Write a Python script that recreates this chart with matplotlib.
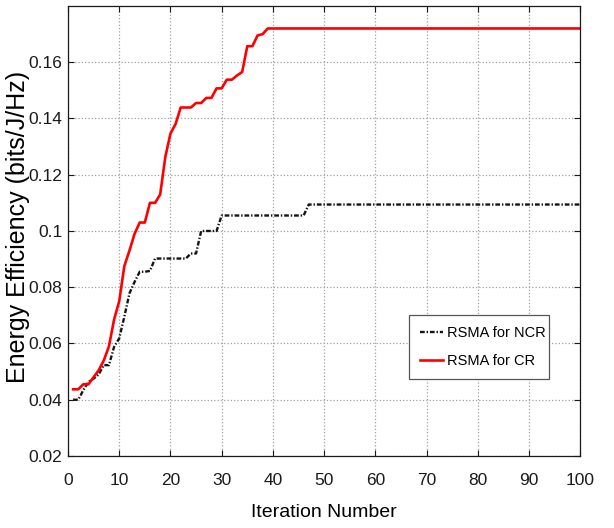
import matplotlib
matplotlib.use('Agg')
import matplotlib.pyplot as plt

# Energy efficiency vs iteration (breakpoints only)
ncr_iter = [1, 2, 3, 4, 5, 6, 7, 8, 9, 10, 11, 12, 13, 14, 15, 16, 17, 23, 24, 25, 26, 29, 30, 46, 47, 100]
ncr_ee = [0.0400, 0.0400, 0.0434, 0.0464, 0.0475, 0.0490, 0.0523, 0.0523, 0.0588, 0.0618,
          0.0695, 0.0778, 0.0819, 0.0855, 0.0855, 0.0858, 0.0902, 0.0902, 0.0920, 0.0920,
          0.1000, 0.1000, 0.1055, 0.1055, 0.1094, 0.1094]

cr_iter = [1, 2, 3, 4, 5, 6, 7, 8, 9, 10, 11, 12, 13, 14, 15, 16, 17, 18, 19, 20,
           21, 22, 24, 25, 26, 27, 28, 29, 30, 31, 32, 33, 34, 35, 36, 37, 38, 39, 100]
cr_ee = [0.0437, 0.0437, 0.0455, 0.0455, 0.0480, 0.0505, 0.0540, 0.0590, 0.0685, 0.0750,
         0.0875, 0.0930, 0.0990, 0.1030, 0.1030, 0.1100, 0.1100, 0.1130, 0.1263, 0.1346,
         0.1380, 0.1439, 0.1439, 0.1455, 0.1455, 0.1473, 0.1473, 0.1507, 0.1507, 0.1538,
         0.1538, 0.1553, 0.1565, 0.1657, 0.1657, 0.1695, 0.1700, 0.1720, 0.1720]

x_ticks = list(range(0, 101, 10))
y_ticks = [0.02, 0.04, 0.06, 0.08, 0.1, 0.12, 0.14, 0.16]
y_tick_labels = ['0.02', '0.04', '0.06', '0.08', '0.1', '0.12', '0.14', '0.16']

font = ['Liberation Sans', 'DejaVu Sans']

fig = plt.figure(figsize=(6.14, 5.28), dpi=100)
ax = fig.add_axes([0.1107, 0.1364, 0.8344, 0.8523])

ax.plot(ncr_iter, ncr_ee, color='#141414', lw=1.7, dashes=(2.0, 0.8, 0.6, 0.8),
        label='RSMA for NCR')
ax.plot(cr_iter, cr_ee, color='#ff0000', lw=1.9, label='RSMA for CR')

ax.set_xlim(0, 100)
ax.set_ylim(0.02, 0.18)
ax.set_xticks(x_ticks)
ax.set_xticklabels([str(t) for t in x_ticks], family=font, fontsize=12.5)
ax.set_yticks(y_ticks)
ax.set_yticklabels(y_tick_labels, family=font, fontsize=12.5)

ax.grid(True, linestyle=':', color='#a0a0a0', lw=0.9)
ax.tick_params(direction='in', top=True, right=True, length=4, width=0.8,
               colors='#1a1a1a')
ax.tick_params(axis='x', pad=12)
ax.tick_params(axis='y', pad=4)
for s in ax.spines.values():
    s.set_linewidth(0.9)
    s.set_color('#1a1a1a')

ax.set_xlabel('Iteration Number', family=font, fontsize=14, labelpad=12)
ax.set_ylabel('Energy Efficiency (bits/J/Hz)', family=font, fontsize=18)
ax.yaxis.set_label_coords(-0.074, 0.51)

leg = ax.legend(loc='lower left', bbox_to_anchor=(0.666, 0.171, 0.272, 0.16),
                mode='expand', borderaxespad=0, prop={'family': font, 'size': 10.5},
                fancybox=False, framealpha=1, edgecolor='#555555',
                handlelength=1.6, handletextpad=0.25, borderpad=0.75, labelspacing=0.95)
leg.get_frame().set_linewidth(0.9)

fig.savefig('out.png', dpi=100)
